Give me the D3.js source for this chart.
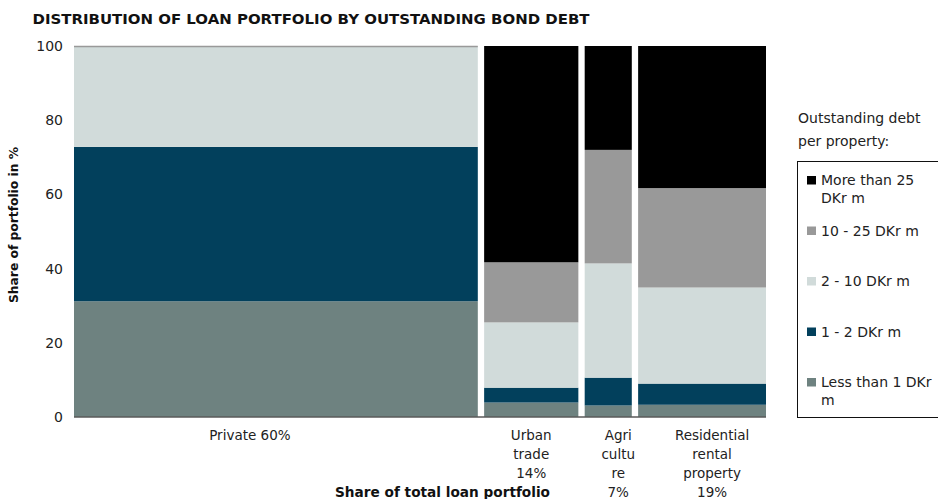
<!DOCTYPE html>
<html>
<head>
<meta charset="utf-8">
<script src="https://cdn.jsdelivr.net/npm/d3@7"></script>
<style>
  body { margin: 0; background: #fff; }
  svg { display: block; font-family: "DejaVu Sans", sans-serif; }
</style>
</head>
<body>
<svg id="chart" width="938" height="499"></svg>
<script>
// Loan portfolio segments and their share of the total portfolio (%)
const categories = ["Private", "Urban trade", "Agriculture", "Residential rental property"];
const portfolioShare = [60, 14, 7, 19];
const categoryLabelLines = [
  ["Private 60%"],
  ["Urban", "trade", "14%"],
  ["Agri", "cultu", "re", "7%"],
  ["Residential", "rental", "property", "19%"]
];

// Outstanding bond debt per property, share of each segment (%), bottom band first
const debtBands = ["Less than 1 DKr m", "1 - 2 DKr m", "2 - 10 DKr m", "10 - 25 DKr m", "More than 25 DKr m"];
const lessThan1  = [31.2, 3.9, 3.1, 3.3];
const from1to2   = [41.6, 4.0, 7.5, 5.7];
const from2to10  = [27.2, 17.6, 30.8, 25.9];
const from10to25 = [0, 16.2, 30.6, 26.8];
const moreThan25 = [0, 58.3, 28.0, 38.3];

const legendLines = [["More than 25", "DKr m"], ["10 - 25 DKr m"], ["2 - 10 DKr m"], ["1 - 2 DKr m"], ["Less than 1 DKr", "m"]];
const yTicks = [0, 20, 40, 60, 80, 100];

// ---- layout ----
const svg = d3.select("#chart");
const plotLeft = 74, plotRight = 766, plotTop = 46, plotBottom = 417, gap = 6.33;
const bandColors = ["#6e8280", "#02405c", "#d1dbda", "#999999", "#000000"];
const labelNudge = [-26, 0, 10, 10];

const rows = categories.map((c, i) => ({
  category: c,
  [debtBands[0]]: lessThan1[i],
  [debtBands[1]]: from1to2[i],
  [debtBands[2]]: from2to10[i],
  [debtBands[3]]: from10to25[i],
  [debtBands[4]]: moreThan25[i]
}));

const y = d3.scaleLinear().domain([0, 100]).range([plotBottom, plotTop]);
const w = d3.scaleLinear().domain([0, 100]).range([0, (plotRight - plotLeft) - gap * (categories.length - 1)]);
const cumStart = portfolioShare.map((s, i) => d3.sum(portfolioShare.slice(0, i)));
const x0 = i => plotLeft + w(cumStart[i]) + i * gap;
const colW = i => w(portfolioShare[i]);
const color = d3.scaleOrdinal().domain(debtBands).range(bandColors);

// title
svg.append("text")
  .attr("x", 32.5).attr("y", 24)
  .attr("font-size", 14).attr("font-weight", "bold").attr("fill", "#111")
  .attr("textLength", 557).attr("lengthAdjust", "spacingAndGlyphs")
  .text("DISTRIBUTION OF LOAN PORTFOLIO BY OUTSTANDING BOND DEBT");

// stacked columns
const series = d3.stack().keys(debtBands)(rows);
svg.append("g").selectAll("g")
  .data(series).join("g")
  .attr("fill", d => color(d.key))
  .selectAll("rect")
  .data(d => d.map((v, i) => ({ v, i })))
  .join("rect")
  .attr("x", d => x0(d.i))
  .attr("width", d => colW(d.i))
  .attr("y", d => y(d.v[1]))
  .attr("height", d => y(d.v[0]) - y(d.v[1]));

// top rule over the private segment
svg.append("line")
  .attr("x1", x0(0)).attr("x2", x0(0) + colW(0))
  .attr("y1", y(100) + 0.5).attr("y2", y(100) + 0.5)
  .attr("stroke", "#999").attr("stroke-width", 1.5);

// baseline
svg.append("line")
  .attr("x1", plotLeft).attr("x2", plotRight)
  .attr("y1", y(0)).attr("y2", y(0))
  .attr("stroke", "#5a5a5a").attr("stroke-width", 1.5);

// y axis
const yAxis = svg.append("g")
  .attr("transform", `translate(${plotLeft},0)`)
  .call(d3.axisLeft(y).tickValues(yTicks).tickSize(0).tickPadding(11));
yAxis.select(".domain").remove();
yAxis.selectAll("text").attr("font-size", 14).attr("fill", "#222")
  .attr("font-family", "DejaVu Sans, sans-serif");

svg.append("text")
  .attr("transform", `translate(17.5,${225}) rotate(-90)`)
  .attr("text-anchor", "middle")
  .attr("font-size", 12).attr("font-weight", "bold").attr("fill", "#111")
  .attr("textLength", 156).attr("lengthAdjust", "spacingAndGlyphs")
  .text("Share of portfolio in %");

// category labels
categoryLabelLines.forEach((lines, i) => {
  const cx = x0(i) + colW(i) / 2 + labelNudge[i];
  const t = svg.append("text")
    .attr("text-anchor", "middle").attr("font-size", 13.5).attr("fill", "#222");
  lines.forEach((ln, j) => {
    t.append("tspan").attr("x", cx).attr("y", 439.5 + j * 19).text(ln);
  });
});

svg.append("text")
  .attr("x", 442.5).attr("y", 497)
  .attr("text-anchor", "middle")
  .attr("font-size", 14).attr("font-weight", "bold").attr("fill", "#111")
  .attr("textLength", 215).attr("lengthAdjust", "spacingAndGlyphs")
  .text("Share of total loan portfolio");

// legend
const lg = svg.append("g");
lg.append("text").attr("x", 798).attr("y", 123).attr("font-size", 14).attr("fill", "#222")
  .text("Outstanding debt");
lg.append("text").attr("x", 798).attr("y", 146).attr("font-size", 14).attr("fill", "#222")
  .text("per property:");
lg.append("rect")
  .attr("x", 797.5).attr("y", 161.5).attr("width", 150).attr("height", 256)
  .attr("fill", "none").attr("stroke", "#111").attr("stroke-width", 1);

const legendOrder = debtBands.slice().reverse();
const ly = d3.scaleLinear().domain([0, 4]).range([185, 387]);
legendOrder.forEach((band, k) => {
  const base = ly(k);
  lg.append("rect")
    .attr("x", 807).attr("y", base - 9)
    .attr("width", 9).attr("height", 8.5)
    .attr("fill", color(band));
  const t = lg.append("text").attr("font-size", 14).attr("fill", "#222");
  legendLines[k].forEach((ln, j) => {
    t.append("tspan").attr("x", 821).attr("y", base + j * 18).text(ln);
  });
});
</script>
</body>
</html>
